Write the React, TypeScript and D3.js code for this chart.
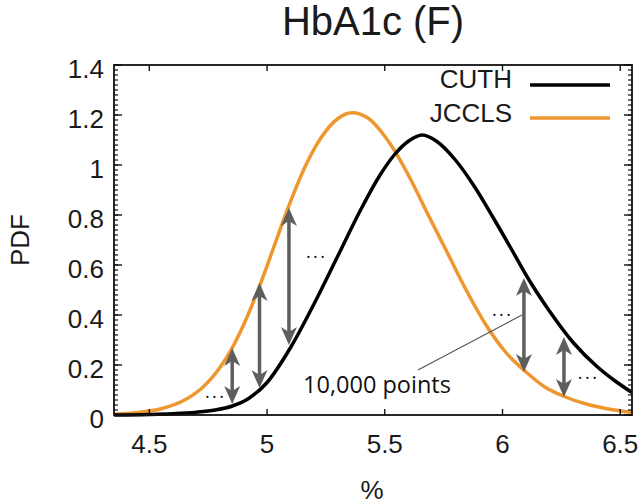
import React from "react";
import * as d3 from "d3";

// ---- data ----
const cuthX = [4.35, 4.5, 4.6, 4.7, 4.78, 4.85, 4.92, 5.0, 5.1, 5.2, 5.3, 5.4, 5.48, 5.54, 5.6, 5.66, 5.72, 5.8, 5.88, 5.96, 6.04, 6.1, 6.2, 6.3, 6.4, 6.48, 6.55];
const cuthPdf = [0.0, 0.002, 0.005, 0.011, 0.02, 0.035, 0.065, 0.13, 0.27, 0.445, 0.635, 0.825, 0.96, 1.04, 1.095, 1.12, 1.095, 1.02, 0.915, 0.79, 0.66, 0.56, 0.415, 0.29, 0.195, 0.135, 0.09];
const jcclsX = [4.35, 4.45, 4.55, 4.65, 4.72, 4.8, 4.85, 4.9, 4.97, 5.03, 5.09, 5.16, 5.23, 5.3, 5.36, 5.43, 5.5, 5.54, 5.6, 5.69, 5.76, 5.84, 5.93, 6.01, 6.1, 6.18, 6.26, 6.36, 6.45, 6.55];
const jcclsPdf = [0.003, 0.01, 0.025, 0.06, 0.105, 0.19, 0.265, 0.36, 0.52, 0.675, 0.83, 0.99, 1.11, 1.185, 1.209, 1.187, 1.115, 1.06, 0.96, 0.79, 0.66, 0.51, 0.36, 0.255, 0.172, 0.112, 0.075, 0.043, 0.024, 0.01];

const seriesNames = ["CUTH", "JCCLS"];
const seriesColors = ["#000000", "#ef972f"];

const arrowX = [4.852, 4.968, 5.093, 6.091, 6.261];
const arrowTop = [0.268, 0.528, 0.828, 0.548, 0.312];
const arrowBottom = [0.044, 0.108, 0.28, 0.172, 0.072];

const dotsX = [4.736, 5.165, 5.955, 6.32];
const dotsY = [0.08, 0.64, 0.408, 0.156];

const noteText = "10,000 points";
const noteX = 5.153;
const noteY = 0.088;
const leaderX = [5.641, 6.083];
const leaderY = [0.18, 0.4];

const xTicks = [4.5, 5, 5.5, 6, 6.5];
const yTicks = [0, 0.2, 0.4, 0.6, 0.8, 1, 1.2, 1.4];
const yMinorStep = 0.02;

const title = "HbA1c (F)";
const xLabel = "%";
const yLabel = "PDF";

// ---- layout ----
const W = 641;
const H = 504;
const L = 114, R = 632, T = 65, B = 415;
const FONT = "'Liberation Sans', Arial, sans-serif";
const NOTE_FONT = "'Open Sans', 'Noto Sans', sans-serif";
const ARROW = "#5e5e5e";

export default function App() {
  const x = d3.scaleLinear().domain([4.35, 6.55]).range([L, R]);
  const y = d3.scaleLinear().domain([0, 1.4]).range([B, T]);

  const line = d3
    .line<[number, number]>()
    .x((d) => x(d[0]))
    .y((d) => y(d[1]))
    .curve(d3.curveMonotoneX);

  const cuth = cuthX.map((v, i) => [v, cuthPdf[i]] as [number, number]);
  const jccls = jcclsX.map((v, i) => [v, jcclsPdf[i]] as [number, number]);

  const minor = d3.range(0, 1.4 + 1e-9, yMinorStep);

  const headLen = 18;
  const headW = 8;
  const notch = 5;
  const head = (tx: number, ty: number, dir: number) =>
    `M${tx},${ty} L${tx - headW},${ty + dir * headLen} L${tx},${ty + dir * (headLen - notch)} L${tx + headW},${ty + dir * headLen} Z`;

  return (
    <svg
      width={W}
      height={H}
      viewBox={`0 0 ${W} ${H}`}
      style={{ position: "absolute", left: 0, top: 0, background: "#fff" }}
    >
      <rect x={0} y={0} width={W} height={H} fill="#fff" />
      <defs>
        <clipPath id="plotclip">
          <rect x={L} y={T - 2} width={R - L} height={B - T + 4} />
        </clipPath>
      </defs>

      {/* title */}
      <text x={(L + R) / 2} y={35} textAnchor="middle" fontFamily={FONT} fontSize={40} fill="#1a1a1a">
        {title}
      </text>

      {/* curves */}
      <g clipPath="url(#plotclip)">
        <path d={line(jccls) || ""} fill="none" stroke={seriesColors[1]} strokeWidth={3.5} strokeLinejoin="round" />
        <path d={line(cuth) || ""} fill="none" stroke={seriesColors[0]} strokeWidth={3.5} strokeLinejoin="round" />
      </g>

      {/* frame */}
      <rect x={L} y={T} width={R - L} height={B - T} fill="none" stroke="#111" strokeWidth={1.8} />

      {/* y ticks */}
      {minor.map((v, i) => (
        <g key={"m" + i}>
          <line x1={L} x2={L + 4} y1={y(v)} y2={y(v)} stroke="#111" strokeWidth={1.2} />
          <line x1={R} x2={R - 4} y1={y(v)} y2={y(v)} stroke="#111" strokeWidth={1.2} />
        </g>
      ))}
      {yTicks.map((v) => (
        <g key={"y" + v}>
          <line x1={L} x2={L + 8} y1={y(v)} y2={y(v)} stroke="#111" strokeWidth={1.4} />
          <line x1={R} x2={R - 8} y1={y(v)} y2={y(v)} stroke="#111" strokeWidth={1.4} />
          <text x={104} y={y(v) + 13} textAnchor="end" fontFamily={FONT} fontSize={26} fill="#1a1a1a">
            {String(v)}
          </text>
        </g>
      ))}

      {/* x ticks */}
      {xTicks.map((v) => (
        <g key={"x" + v}>
          <line x1={x(v)} x2={x(v)} y1={B} y2={B - 6} stroke="#111" strokeWidth={1.4} />
          <line x1={x(v)} x2={x(v)} y1={T} y2={T + 6} stroke="#111" strokeWidth={1.4} />
          <text x={x(v)} y={453} textAnchor="middle" fontFamily={FONT} fontSize={26} fill="#1a1a1a">
            {String(v)}
          </text>
        </g>
      ))}

      {/* axis labels */}
      <text x={372} y={499} textAnchor="middle" fontFamily={FONT} fontSize={26} fill="#1a1a1a">
        {xLabel}
      </text>
      <text
        transform={`translate(29,${(T + B) / 2}) rotate(-90)`}
        textAnchor="middle"
        fontFamily={FONT}
        fontSize={26}
        fill="#1a1a1a"
      >
        {yLabel}
      </text>

      {/* legend */}
      {seriesNames.map((n, i) => (
        <g key={n}>
          <text x={512} y={88 + i * 34} textAnchor="end" fontFamily={FONT} fontSize={26} fill="#1a1a1a">
            {n}
          </text>
          <line x1={530} x2={610} y1={85 + i * 33} y2={85 + i * 33} stroke={seriesColors[i]} strokeWidth={3.5} />
        </g>
      ))}

      {/* double arrows */}
      {arrowX.map((v, i) => {
        const ax = x(v);
        const yt = y(arrowTop[i]);
        const yb = y(arrowBottom[i]);
        return (
          <g key={"a" + i}>
            <line x1={ax} x2={ax} y1={yt + headLen - notch} y2={yb - headLen + notch} stroke={ARROW} strokeWidth={3.5} />
            <path d={head(ax, yt, 1)} fill={ARROW} />
            <path d={head(ax, yb, -1)} fill={ARROW} />
          </g>
        );
      })}

      {/* ellipses */}
      {dotsX.map((v, i) => (
        <text key={"d" + i} x={x(v)} y={y(dotsY[i]) + 3} fontFamily={NOTE_FONT} fontSize={18} letterSpacing={2.5} fill="#111">
          ...
        </text>
      ))}

      {/* annotation */}
      <line x1={x(leaderX[0])} y1={y(leaderY[0])} x2={x(leaderX[1])} y2={y(leaderY[1])} stroke="#555" strokeWidth={1.2} />
      <text x={x(noteX)} y={y(noteY)} fontFamily={NOTE_FONT} fontSize={23.5} fill="#111">
        {noteText}
      </text>
    </svg>
  );
}
